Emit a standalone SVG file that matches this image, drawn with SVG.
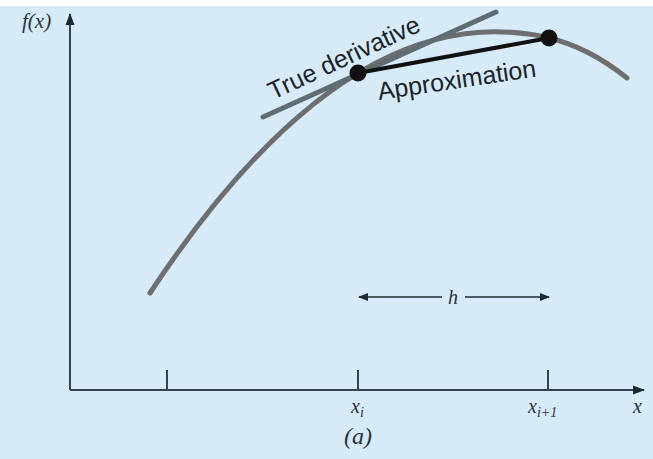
<svg xmlns="http://www.w3.org/2000/svg" width="653" height="459" viewBox="0 0 653 459">
<defs>
<marker id="ah" viewBox="0 0 10 10" refX="9" refY="5" markerWidth="10" markerHeight="10" markerUnits="userSpaceOnUse" orient="auto-start-reverse">
<path d="M0,1 L10,5 L0,9 Z" fill="#1e2a30"/>
</marker>
<marker id="ax" viewBox="0 0 12 10" refX="11" refY="5" markerWidth="12" markerHeight="10" markerUnits="userSpaceOnUse" orient="auto">
<path d="M0,0.5 L12,5 L0,9.5 Z" fill="#1e2a30"/>
</marker>
<style>
.axis{stroke:#34444d;stroke-width:2;fill:none}
.tick{stroke:#34444d;stroke-width:2}
.math{font-family:"Liberation Serif",serif;font-style:italic;fill:#2a3338}
.lbl{font-family:"Liberation Sans",Arial,sans-serif;fill:#1c2428}
</style>
</defs>
<rect x="0" y="0" width="653" height="459" fill="#ffffff"/>
<rect x="0" y="6" width="653" height="453" fill="#d6eaf8"/>

<g id="connectors">
<path class="axis" d="M70,390 L70,14" marker-end="url(#ax)"/>
<path class="axis" d="M70,390 L644,390" marker-end="url(#ax)"/>
<line class="tick" x1="167" y1="370" x2="167" y2="390"/>
<line class="tick" x1="358" y1="370" x2="358" y2="390"/>
<line class="tick" x1="548" y1="370" x2="548" y2="390"/>
<line x1="442" y1="297" x2="359" y2="297" stroke="#1e2a30" stroke-width="1.6" marker-end="url(#ah)"/>
<line x1="465" y1="297" x2="549" y2="297" stroke="#1e2a30" stroke-width="1.6" marker-end="url(#ah)"/>
</g>

<g id="curve">
<path d="M150,293 Q349.5,-9 549,38 Q588,47 627,78" fill="none" stroke="#6e6e6e" stroke-width="5" stroke-linecap="round"/>
</g>
<g id="tangent">
<line x1="263" y1="117" x2="496" y2="12" stroke="#5f6d72" stroke-width="5" stroke-linecap="round"/>
</g>
<g id="chord">
<line x1="358" y1="73" x2="549" y2="38" stroke="#111111" stroke-width="4"/>
</g>
<g id="point-i">
<circle cx="358" cy="73" r="8.5" fill="#111111"/>
</g>
<g id="point-i1">
<circle cx="549" cy="38" r="8.5" fill="#111111"/>
</g>

<g id="labels">
<text class="lbl" font-size="25" transform="translate(273,100) rotate(-25)">True derivative</text>
<text class="lbl" font-size="25" transform="translate(379,100) rotate(-8.5)">Approximation</text>
<text class="math" x="453" y="304" font-size="20" text-anchor="middle">h</text>
<text class="math" x="22" y="28" font-size="21">f(x)</text>
<text class="math" x="351" y="413" font-size="20">x<tspan font-size="14" dy="4">i</tspan></text>
<text class="math" x="528" y="413" font-size="20">x<tspan font-size="14" dy="4">i+1</tspan></text>
<text class="math" x="633" y="413" font-size="20">x</text>
<text class="math" x="358" y="444" font-size="24" text-anchor="middle">(a)</text>
</g>
</svg>
